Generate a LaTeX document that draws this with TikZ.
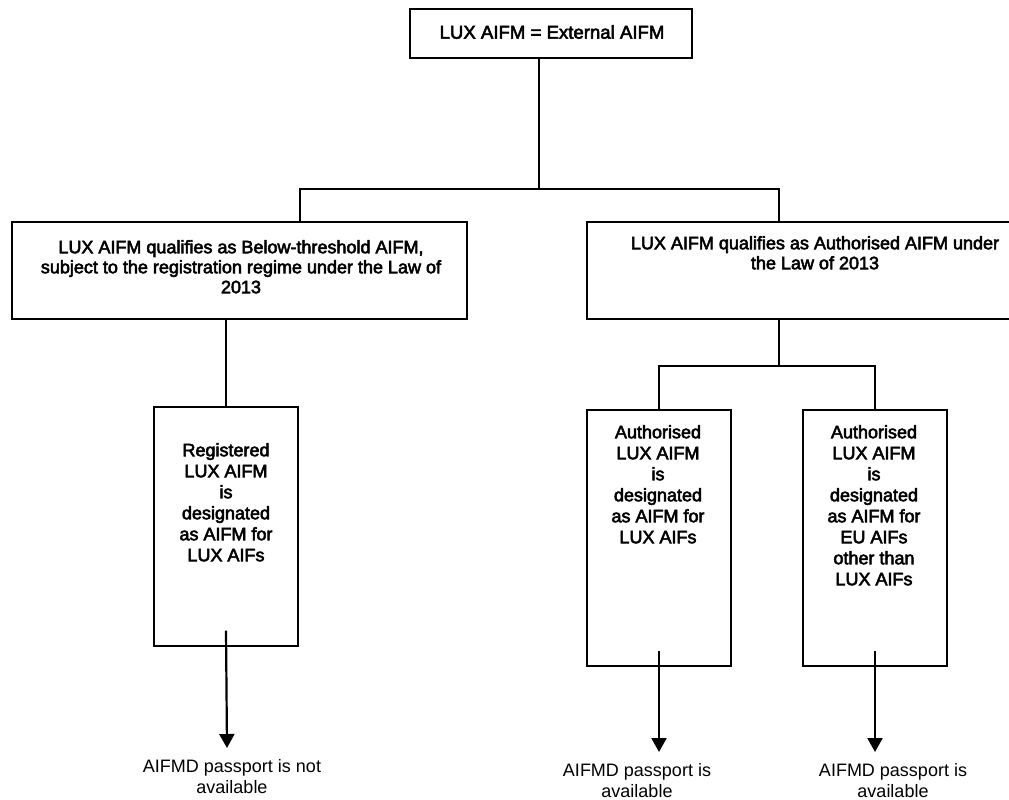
\documentclass[tikz,border=0pt]{standalone}
\usepackage{fontspec}
\setmainfont{Liberation Sans}
\newfontfamily\heavyfont{Liberation Sans}[FakeBold=3]
\usetikzlibrary{arrows.meta}
\begin{document}
\begin{tikzpicture}[x=1pt,y=-1pt,
  frame/.style={draw, line width=1.4pt, inner sep=0pt},
  btext/.style={align=center, inner sep=0pt, font=\fontsize{18}{21}\selectfont\heavyfont},
  toptext/.style={align=center, inner sep=0pt, font=\fontsize{18.6}{21}\selectfont\heavyfont},
  bigtext/.style={align=center, inner sep=0pt, font=\fontsize{18}{20}\selectfont\heavyfont},
  lbl/.style={align=center, inner sep=0pt, font=\fontsize{18}{21}\selectfont},
  conn/.style={line width=1.4pt},
  arr/.style={line width=2.2pt, -{Triangle[length=14pt,width=15pt]}}]
\useasboundingbox (0,0) rectangle (1009,800);
\clip (0,0) rectangle (1009,800);

% top box
\node[frame, minimum width=282pt, minimum height=49pt] (top) at (551,33.5) {};
\node[toptext] (topT) at (552,32) {LUX AIFM = External AIFM};

% big boxes
\node[frame, minimum width=455pt, minimum height=97pt] (left) at (239.5,270.5) {};
\node[bigtext, anchor=north] (leftT) at (241,240) {LUX AIFM qualifies as Below-threshold AIFM,\\subject to the registration regime under the Law of\\2013};
\node[frame, minimum width=460pt, minimum height=97pt] (right) at (817,270.5) {};
\node[bigtext, anchor=north] (rightT) at (815,236) {LUX AIFM qualifies as Authorised AIFM under\\the Law of 2013};

% small boxes
\node[frame, minimum width=144pt, minimum height=239pt] (sL) at (226,526.5) {};
\node[btext, anchor=north] (sLT) at (226,443) {Registered\\LUX AIFM\\is\\designated\\as AIFM for\\LUX AIFs};
\node[frame, minimum width=144pt, minimum height=256pt] (b1) at (659,538) {};
\node[btext, anchor=north] (b1T) at (658,425) {Authorised\\LUX AIFM\\is\\designated\\as AIFM for\\LUX AIFs};
\node[frame, minimum width=144pt, minimum height=256pt] (b2) at (875,538) {};
\node[btext, anchor=north] (b2T) at (874,425) {Authorised\\LUX AIFM\\is\\designated\\as AIFM for\\EU AIFs\\other than\\LUX AIFs};

% junctions
\coordinate (j1) at (539,189);
\coordinate (hl) at (300,189);
\coordinate (hr) at (779,189);
\coordinate (j2) at (779,366);

\draw[conn] (top.south -| j1) -- (j1);
\draw[conn] (hl |- left.north) -- (hl) -- (hr) -- (hr |- right.north);
\draw[conn] (left.south -| sL.north) -- (sL.north);
\draw[conn] (right.south -| j2) -- (j2);
\draw[conn] (b1.north) |- (j2) -| (b2.north);

% labels
\node[lbl] (lblL) at (232,776.5) {AIFMD passport is not\\available};
\node[lbl] (lbl1) at (637,780.5) {AIFMD passport is\\available};
\node[lbl] (lbl2) at (893,780.5) {AIFMD passport is\\available};

\coordinate (eL) at (227,748);
\coordinate (e1) at (659,752);
\coordinate (e2) at (875,752);
\draw[arr] ([yshift=16pt]sL.south) -- (eL);
\draw[arr] ([yshift=16pt]b1.south) -- (e1);
\draw[arr] ([yshift=16pt]b2.south) -- (e2);
\end{tikzpicture}
\end{document}
